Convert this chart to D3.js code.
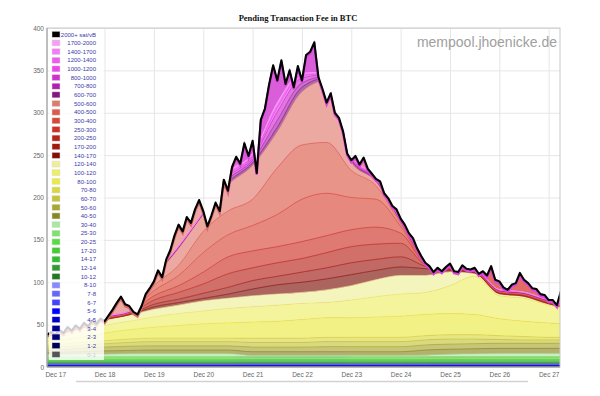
<!DOCTYPE html>
<html>
<head>
<meta charset="utf-8">
<script src="https://cdn.jsdelivr.net/npm/d3@7"></script>
<style>
  body { margin: 0; background: #fff; }
  svg { display: block; }
  .axis text { font-family: "Liberation Sans", Arial, sans-serif; font-size: 6.5px; fill: #666; }
  .axis path { display: none; }
  .grid line { stroke: #e6e6e6; }
  .grid path, .grid text { display: none; }
</style>
</head>
<body>
<div id="chart"></div>
<script>
// sample times of the fee bands (every 12 hours, UTC)
var bandTimes = ["2017-12-16T12:00Z", "2017-12-17T00:00Z", "2017-12-17T12:00Z", "2017-12-18T00:00Z",
  "2017-12-18T12:00Z", "2017-12-19T00:00Z", "2017-12-19T12:00Z", "2017-12-20T00:00Z",
  "2017-12-20T12:00Z", "2017-12-21T00:00Z", "2017-12-21T12:00Z", "2017-12-22T00:00Z",
  "2017-12-22T12:00Z", "2017-12-23T00:00Z", "2017-12-23T12:00Z", "2017-12-24T00:00Z",
  "2017-12-24T12:00Z", "2017-12-25T00:00Z", "2017-12-25T12:00Z", "2017-12-26T00:00Z",
  "2017-12-26T12:00Z", "2017-12-27T00:00Z", "2017-12-27T12:00Z"];

// pending fee (BTC) per sat/vB band, one value per band time
var fee1_2 = [0.6,0.6,0.6,0.6,0.6,0.6,0.6,0.6,0.6,0.6,0.6,0.6,0.6,0.6,0.6,0.6,0.6,0.6,0.6,0.6,0.6,0.6,0.6];
var fee2_3 = [0.3,0.3,0.3,0.3,0.3,0.3,0.3,0.3,0.3,0.3,0.3,0.3,0.3,0.3,0.3,0.3,0.3,0.3,0.3,0.3,0.3,0.3,0.3];
var fee3_4 = [0.3,0.3,0.3,0.3,0.3,0.3,0.3,0.3,0.3,0.3,0.3,0.3,0.3,0.3,0.3,0.3,0.3,0.3,0.3,0.3,0.3,0.3,0.3];
var fee4_5 = [0.4,0.4,0.4,0.4,0.4,0.4,0.4,0.4,0.4,0.4,0.4,0.4,0.4,0.4,0.4,0.4,0.4,0.4,0.4,0.4,0.4,0.4,0.4];
var fee5_6 = [1.2,1.2,1.2,1.2,1.2,1.2,1.2,1.2,1.2,1.2,1.2,1.2,1.2,1.2,1.2,1.2,1.2,1.2,1.2,1.2,1.2,1.2,1.2];
var fee6_7 = [0.4,0.4,0.4,0.4,0.4,0.4,0.4,0.4,0.4,0.4,0.4,0.4,0.4,0.4,0.4,0.4,0.4,0.4,0.4,0.4,0.4,0.4,0.4];
var fee7_8 = [0.2,0.2,0.2,0.2,0.2,0.2,0.2,0.2,0.2,0.2,0.2,0.2,0.2,0.2,0.2,0.2,0.2,0.2,0.2,0.2,0.2,0.2,0.2];
var fee8_10 = [0.2,0.2,0.2,0.2,0.2,0.2,0.2,0.2,0.2,0.2,0.2,0.2,0.2,0.2,0.2,0.2,0.2,0.2,0.2,0.2,0.2,0.2,0.2];
var fee10_12 = [1,1,1,1,1,1,1,1,1,1,1,1,1,1,1,1,1,1,1,1,1,1,1];
var fee12_14 = [1.1,1.1,1.1,1.1,1.1,1.1,1.1,1.1,1.1,1.1,1.1,1.1,1.1,1.1,1.1,1.1,1.1,1.1,1.1,1.1,1.1,1.1,1.1];
var fee14_17 = [1.5,1.5,1.5,1.5,1.5,1.5,1.5,1.5,1.5,1.5,1.5,1.5,1.5,1.5,1.5,1.5,1.5,1.5,1.5,1.5,1.5,1.5,1.5];
var fee17_20 = [1.4,1.4,1.4,1.4,1.4,1.4,1.4,1.4,1.4,1.4,1.4,1.4,1.4,1.4,1.4,1.4,1.4,1.4,1.4,1.4,1.4,1.4,1.4];
var fee20_25 = [2.2,2.2,2.2,2.2,2.2,2.2,2.2,2.2,2.2,2.2,2.2,2.2,2.2,2.2,2.2,2.2,2.2,2.2,2.2,2.2,2.2,2.2,2.2];
var fee25_30 = [1.6,1.6,1.6,1.6,1.6,1.6,1.6,1.6,1.6,1.6,1.6,1.6,1.6,1.6,1.6,1.6,1.6,1.6,1.6,1.6,1.6,1.6,1.6];
var fee30_40 = [1.6,1.6,2.1,2.6,3.1,3.1,3.1,3.1,3.1,1.1,1.1,1.1,1.1,1.1,1.1,1.1,1.6,2.6,3.1,3.6,3.6,3.6,3.6];
var fee40_50 = [2.5,3,3.5,4,4,4.5,4.5,4.5,4.5,4.5,4.5,4.5,4.5,4.5,4.5,4.5,6,6,6,6,6,6,6];
var fee50_60 = [2.5,3,4,4.5,5,5,5,5,5,5.5,5.5,5.5,6,6,6,6,6,6,6,6,6,6,6];
var fee60_70 = [3,3,3.5,4,4.5,5,5,5,5,5.5,5.5,5.5,6,6,6,6,6,6,5.5,4.5,4,4,4];
var fee70_80 = [3,3,3.5,3.5,4,4,4,4,4,5,5,5,5,5,5,5,5,5,5,4.5,4,3,3];
var fee80_100 = [4,5,6,9,11,13,15,17,18,19,20,22,23,23,24,25,25,25,24,20,18,17,15];
var fee100_120 = [4,4,6,9,10,12,14,15,17,18,19,19,18,21,24,26,26,33,45,27,27,21,17];
var fee120_140 = [3,3,4,6,7,9,10,12,12,13,13,13,15,17,20,22,20,16,3,2,2,1,0.5];
var fee140_170 = [0.4,0.4,0.4,0.5,0.5,3,3,3,5,8,11,12,13,13,11,10,8,2,1,0.5,0.5,0.5,0.5];
var fee170_200 = [0.4,0.4,0.4,0.5,0.5,3,4,6,8,10,10,12,13,14,13,12,3,1,0.5,0.5,0.5,0.5,0.5];
var fee200_250 = [0.4,0.4,0.4,0.5,0.5,5,8,11,16,15,16,16,18,19,18,16,2,0.5,0.5,0.5,0.5,0.5,0.5];
var fee250_300 = [0.4,0.4,0.4,0.5,0.5,5,8,14,20,20,19,20,20,20,20,12,1.5,0.5,0.5,0.5,0.5,0.5,0.5];
var fee300_400 = [0.6,0.6,0.6,0.5,0.5,6,12,23,26,30,38,50,50,38,33,8,1.5,0.5,0.5,0.5,0.5,0.5,0.5];
var fee400_500 = [0.6,0.6,0.6,0.5,0.5,6,12,25,28,31,55,64,60,32,16,3,1,0.5,0.5,0.5,0.5,0.5,0.5];
var fee500_600 = [0.7,0.7,0.7,0.6,0.5,9,20,20,31,40,43,63,73,10,5,2,1,0.5,0.5,0.5,0.5,0.5,0.5];
var fee600_700 = [0.3,0.3,0.3,0.3,0.3,0.5,1,1,3,3,5,5,3,2,1,1,0.5,0.3,0.3,0.3,0.3,0.3,0.3];
var fee700_800 = [0.2,0.2,0.2,0.2,0.2,0.3,0.5,0.5,3,3,8,5,2,1,1,0.5,0.5,0.3,0.3,0.3,0.3,0.3,0.3];
var fee800_1000 = [0.3,0.3,0.3,0.3,0.3,0.5,0.5,0.5,3,3,10,6,2,1.5,1,0.5,0.5,0.4,0.4,0.4,0.4,0.4,0.4];
var fee1000_1200 = [0.2,0.2,0.2,0.2,0.2,0.3,0.3,0.3,2,2,5,3,1,1,1,0.5,0.5,0.3,0.3,0.3,0.3,0.3,0.3];
var fee1200_1400 = [0.1,0.1,0.1,0.1,0.1,0.2,0.2,0.2,1,1,2,1,0.5,0.5,0.5,0.3,0.3,0.2,0.2,0.2,0.2,0.2,0.2];
var fee1400_1700 = [0.1,0.1,0.1,0.1,0.1,0.2,0.2,0.2,1,1,2,1,0.5,0.5,0.5,0.3,0.3,0.2,0.2,0.2,0.2,0.2,0.2];
var fee1700_2000 = [0.1,0.1,0.1,0.1,0.1,0.2,0.2,0.2,1,1,2,1,0.5,0.5,0.5,0.3,0.3,0.2,0.2,0.2,0.2,0.2,0.2];

// top of the whole stack (incl. 2000+ sat/vB), every 2 hours from topStart
var topStart = "2017-12-16T20:00Z";
var topStepHours = 2;
var stackTop = [38,41,38,44,40,47,43,49,45,52,48,55,51,57,54,61,68,76,83,74,72,65,62,72,86,93,
  101,114,106,127,138,155,168,160,177,170,186,197,184,166,179,194,184,221,208,236,248,240,264,249,267,
  229,292,305,333,356,338,362,334,350,330,355,338,368,372,383,342,328,312,323,300,294,278,252,244,249,
  239,247,234,228,222,219,205,199,190,186,175,168,158,152,140,131,123,119,112,117,113,118,122,113,112,
  120,116,115,117,110,113,108,119,103,101,94,91,97,99,111,103,99,93,92,86,85,79,79,73,90];

// bands from bottom to top (0-1 is switched off in the legend)
var bands = [
  {label: "1-2", color: "#000055", values: fee1_2},
  {label: "2-3", color: "#000077", values: fee2_3},
  {label: "3-4", color: "#000099", values: fee3_4},
  {label: "4-5", color: "#0000cc", values: fee4_5},
  {label: "5-6", color: "#0000ff", values: fee5_6},
  {label: "6-7", color: "#4444ff", values: fee6_7},
  {label: "7-8", color: "#6666ff", values: fee7_8},
  {label: "8-10", color: "#8888ff", values: fee8_10},
  {label: "10-12", color: "#227722", values: fee10_12},
  {label: "12-14", color: "#339933", values: fee12_14},
  {label: "14-17", color: "#33bb33", values: fee14_17},
  {label: "17-20", color: "#44cc33", values: fee17_20},
  {label: "20-25", color: "#55dd44", values: fee20_25},
  {label: "25-30", color: "#80e070", values: fee25_30},
  {label: "30-40", color: "#a8e8a0", values: fee30_40},
  {label: "40-50", color: "#888820", values: fee40_50},
  {label: "50-60", color: "#a8a830", values: fee50_60},
  {label: "60-70", color: "#c4c438", values: fee60_70},
  {label: "70-80", color: "#d8d840", values: fee70_80},
  {label: "80-100", color: "#eaea44", values: fee80_100},
  {label: "100-120", color: "#eeee66", values: fee100_120},
  {label: "120-140", color: "#eeee99", values: fee120_140},
  {label: "140-170", color: "#801008", values: fee140_170},
  {label: "170-200", color: "#a01810", values: fee170_200},
  {label: "200-250", color: "#b82218", values: fee200_250},
  {label: "250-300", color: "#cc3326", values: fee250_300},
  {label: "300-400", color: "#d84838", values: fee300_400},
  {label: "400-500", color: "#dd5a4a", values: fee400_500},
  {label: "500-600", color: "#e07a6e", values: fee500_600},
  {label: "600-700", color: "#801880", values: fee600_700},
  {label: "700-800", color: "#b020b0", values: fee700_800},
  {label: "800-1000", color: "#d030d0", values: fee800_1000},
  {label: "1000-1200", color: "#ee44ee", values: fee1000_1200},
  {label: "1200-1400", color: "#f05af0", values: fee1200_1400},
  {label: "1400-1700", color: "#f47cf4", values: fee1400_1700},
  {label: "1700-2000", color: "#f79cf7", values: fee1700_2000}
];

var yTicks = [0, 50, 100, 150, 200, 250, 300, 350, 400];

var width = 600, height = 396;
var plot = {left: 47, right: 560, top: 28, bottom: 367};

var svg = d3.select("#chart").append("svg")
    .attr("width", width)
    .attr("height", height);

var x = d3.scaleUtc()
    .domain([new Date("2017-12-16T20:00Z"), new Date("2017-12-27T05:30Z")])
    .range([plot.left, plot.right]);
var y = d3.scaleLinear().domain([0, 400]).range([plot.bottom, plot.top]);

// light colour of a band area (band colour on white)
function fillOf(color, a) { return d3.interpolateRgb("#ffffff", color)(a || 0.65); }
function bandColor(label) { return bands.find(b => b.label == label).color; }

//grid
svg.append("g").attr("class", "grid")
    .attr("transform", "translate(" + plot.left + ",0)")
    .call(d3.axisLeft(y).tickValues(yTicks).tickSize(-(plot.right - plot.left)));
svg.append("g").attr("class", "grid")
    .attr("transform", "translate(0," + plot.bottom + ")")
    .call(d3.axisBottom(x).ticks(d3.utcDay.every(1)).tickSize(-(plot.bottom - plot.top)));

// data rows for the stack
var rows = bandTimes.map(function(t, i){
    var row = {date: new Date(t)};
    bands.forEach(function(b){ row[b.label] = b.values[i]; });
    return row;
});
var series = d3.stack().keys(bands.map(b => b.label))(rows);

var topPoints = stackTop.map(function(v, i){
    return {date: d3.utcHour.offset(new Date(topStart), i * topStepHours), value: v};
});

var defs = svg.append("defs");
defs.append("clipPath").attr("id", "plotClip")
    .append("rect").attr("x", plot.left).attr("y", plot.top)
    .attr("width", plot.right - plot.left).attr("height", plot.bottom - plot.top);

var underTop = d3.area()
    .x(d => x(d.date))
    .y0(y(0))
    .y1(d => y(d.value));
defs.append("clipPath").attr("id", "topClip")
    .append("path").attr("d", underTop(topPoints));

// colour of the spiky part above the smooth bands changes over time
function gradient(id, stops){
    var g = defs.append("linearGradient").attr("id", id)
        .attr("gradientUnits", "userSpaceOnUse")
        .attr("x1", plot.left).attr("x2", plot.right).attr("y1", 0).attr("y2", 0);
    stops.forEach(function(s){
        g.append("stop")
            .attr("offset", (x(new Date(s[0])) - plot.left) / (plot.right - plot.left))
            .attr("stop-color", s[1]);
    });
}
gradient("excessFill", [
    ["2017-12-20T13:00Z", fillOf(bandColor("500-600"))],
    ["2017-12-20T18:00Z", fillOf(bandColor("800-1000"), 0.78)],
    ["2017-12-22T20:00Z", fillOf(bandColor("800-1000"), 0.78)],
    ["2017-12-23T02:00Z", fillOf(bandColor("400-500"))],
    ["2017-12-24T08:00Z", fillOf(bandColor("400-500"))],
    ["2017-12-24T14:00Z", fillOf(bandColor("300-400"), 0.8)]
]);
gradient("fringeStroke", [
    ["2017-12-20T10:00Z", "#d86a6a"],
    ["2017-12-20T16:00Z", "#dd44dd"]
]);

var chart = svg.append("g").attr("clip-path", "url(#plotClip)");
var stackG = chart.append("g").attr("clip-path", "url(#topClip)");

stackG.append("path")
    .attr("d", underTop(topPoints))
    .attr("fill", "url(#excessFill)");

var area = d3.area()
    .x(d => x(d.data.date))
    .y0(d => y(d[0]))
    .y1(d => y(d[1]))
    .curve(d3.curveMonotoneX);
var edge = d3.line()
    .x(d => x(d.data.date))
    .y(d => y(d[1]))
    .curve(d3.curveMonotoneX);

stackG.selectAll(".band")
    .data(series)
    .enter()
    .append("path")
    .attr("class", "band")
    .attr("d", area)
    .attr("fill", (d, i) => fillOf(bands[i].color));

stackG.selectAll(".edge")
    .data(series)
    .enter()
    .append("path")
    .attr("class", "edge")
    .attr("d", edge)
    .attr("fill", "none")
    .attr("stroke", (d, i) => bands[i].color)
    .attr("stroke-opacity", 0.8)
    .attr("stroke-width", 0.8);

// 2000+ sat/vB on top of everything
var topLine = d3.line().x(d => x(d.date)).y(d => y(d.value));
chart.append("path")
    .attr("d", topLine(topPoints))
    .attr("transform", "translate(0,2)")
    .attr("fill", "none")
    .attr("stroke", "url(#fringeStroke)")
    .attr("stroke-width", 2.4);
chart.append("path")
    .attr("d", topLine(topPoints))
    .attr("fill", "none")
    .attr("stroke", "#000")
    .attr("stroke-width", 2.1)
    .attr("stroke-linejoin", "round");

// frame
svg.append("rect")
    .attr("x", plot.left).attr("y", plot.top)
    .attr("width", plot.right - plot.left).attr("height", plot.bottom - plot.top)
    .attr("fill", "none").attr("stroke", "#c8c8c8");
svg.append("line")
    .attr("x1", plot.left).attr("x2", plot.left).attr("y1", plot.top).attr("y2", plot.bottom)
    .attr("stroke", "#999");
svg.append("line")
    .attr("x1", plot.left).attr("x2", plot.right).attr("y1", plot.bottom).attr("y2", plot.bottom)
    .attr("stroke", "#999");

//axes
svg.append("g").attr("class", "axis")
    .attr("transform", "translate(" + plot.left + ",0)")
    .call(d3.axisLeft(y).tickValues(yTicks).tickSize(0).tickPadding(3));
svg.append("g").attr("class", "axis")
    .attr("transform", "translate(0," + plot.bottom + ")")
    .call(d3.axisBottom(x).ticks(d3.utcDay.every(1)).tickFormat(d3.utcFormat("%b %d")).tickSize(0).tickPadding(5));

// legend, top entry first
var legendItems = [{label: "2000+ sat/vB", color: "#000000"}]
    .concat(bands.slice().reverse().map(b => ({label: b.label, color: b.color})))
    .concat([{label: "0-1", color: "#555555", off: true}]);

var legend = svg.append("g");
legend.append("rect")
    .attr("x", 49).attr("y", 29).attr("width", 55).attr("height", 331)
    .attr("fill", "#fff").attr("fill-opacity", 0.8);
var item = legend.selectAll(".item")
    .data(legendItems)
    .enter()
    .append("g")
    .attr("transform", (d, i) => "translate(0," + (34.3 + i * 8.65) + ")");
item.append("rect")
    .attr("x", 52).attr("y", -3).attr("width", 8).attr("height", 6)
    .attr("fill", d => d.color)
    .attr("stroke", "#ddd").attr("stroke-width", 0.5);
item.append("text")
    .attr("x", 96).attr("y", 2.2)
    .attr("text-anchor", "end")
    .style("font-family", "Liberation Sans, Arial, sans-serif")
    .style("font-size", "6px")
    .attr("fill", d => d.off ? "#c8c8d8" : "#3a3aaa")
    .text(d => d.label);

// watermark and title
svg.append("text")
    .attr("x", 557).attr("y", 47)
    .attr("text-anchor", "end")
    .style("font-family", "Liberation Sans, Arial, sans-serif")
    .style("font-size", "14px")
    .attr("fill", "#a0a0a0")
    .text("mempool.jhoenicke.de");
svg.append("text")
    .attr("x", 298).attr("y", 21)
    .attr("text-anchor", "middle")
    .style("font-family", "Liberation Serif, Times New Roman, serif")
    .style("font-weight", "bold")
    .style("font-size", "8.5px")
    .attr("fill", "#111")
    .text("Pending Transaction Fee in BTC");

// scroll bar under the chart
svg.append("line")
    .attr("x1", 76).attr("x2", 528).attr("y1", 381.5).attr("y2", 381.5)
    .attr("stroke", "#d2d2d2").attr("stroke-width", 1.5);
</script>
</body>
</html>
